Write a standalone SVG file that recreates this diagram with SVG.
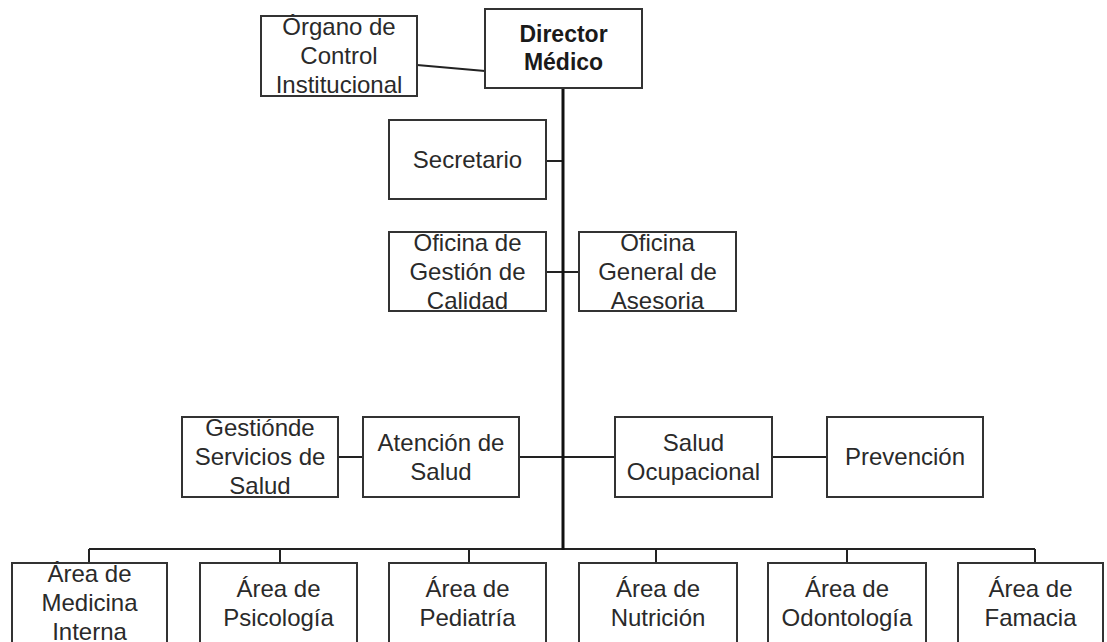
<svg xmlns="http://www.w3.org/2000/svg" width="1107" height="642" viewBox="0 0 1107 642">
<style>
.box{fill:#fff;stroke:#333;stroke-width:2}
.t{font-family:"Liberation Sans",Arial,sans-serif;font-size:24px;fill:#2a2a2a;text-anchor:middle}
.b{font-family:"Liberation Sans",Arial,sans-serif;font-size:23px;font-weight:bold;fill:#1a1a1a;text-anchor:middle}
.c{stroke:#222;stroke-width:2;fill:none}
.m{stroke:#111;stroke-width:3;fill:none}
</style>
<rect width="1107" height="642" fill="#fff"/>
<g id="connectors">
<line class="c" x1="417" y1="65" x2="485" y2="71"/>
<line class="c" x1="546" y1="161" x2="563" y2="161"/>
<line class="c" x1="546" y1="272" x2="579" y2="272"/>
<line class="c" x1="338" y1="457" x2="363" y2="457"/>
<line class="c" x1="519" y1="457" x2="615" y2="457"/>
<line class="c" x1="772" y1="457" x2="827" y2="457"/>
<line class="c" x1="89" y1="549" x2="1035" y2="549"/>
<line class="c" x1="89" y1="549" x2="89" y2="563"/>
<line class="c" x1="280" y1="549" x2="280" y2="563"/>
<line class="c" x1="469" y1="549" x2="469" y2="563"/>
<line class="c" x1="656" y1="549" x2="656" y2="563"/>
<line class="c" x1="847" y1="549" x2="847" y2="563"/>
<line class="c" x1="1035" y1="549" x2="1035" y2="563"/>
<line class="m" x1="563" y1="88" x2="563" y2="550"/>
</g>
<g id="director"><rect class="box" x="485" y="9" width="157" height="79"/><text class="b" x="563.5" y="42">Director</text><text class="b" x="563.5" y="70">Médico</text></g>
<g id="organo"><rect class="box" x="261" y="16" width="156" height="80"/><text class="t" x="339" y="35">Órgano de</text><text class="t" x="339" y="64">Control</text><text class="t" x="339" y="93">Institucional</text></g>
<g id="secretario"><rect class="box" x="389" y="120" width="157" height="79"/><text class="t" x="467.5" y="168">Secretario</text></g>
<g id="gestion-calidad"><rect class="box" x="389" y="232" width="157" height="79"/><text class="t" x="467.5" y="251">Oficina de</text><text class="t" x="467.5" y="280">Gestión de</text><text class="t" x="467.5" y="309">Calidad</text></g>
<g id="asesoria"><rect class="box" x="579" y="232" width="157" height="79"/><text class="t" x="657.5" y="251">Oficina</text><text class="t" x="657.5" y="280">General de</text><text class="t" x="657.5" y="309">Asesoria</text></g>
<g id="gestion-servicios"><rect class="box" x="182" y="417" width="156" height="80"/><text class="t" x="260" y="436">Gestiónde</text><text class="t" x="260" y="465">Servicios de</text><text class="t" x="260" y="494">Salud</text></g>
<g id="atencion"><rect class="box" x="363" y="417" width="156" height="80"/><text class="t" x="441" y="451">Atención de</text><text class="t" x="441" y="480">Salud</text></g>
<g id="salud-ocupacional"><rect class="box" x="615" y="417" width="157" height="80"/><text class="t" x="693.5" y="451">Salud</text><text class="t" x="693.5" y="480">Ocupacional</text></g>
<g id="prevencion"><rect class="box" x="827" y="417" width="156" height="80"/><text class="t" x="905" y="465">Prevención</text></g>
<g id="medicina"><rect class="box" x="12" y="563" width="155" height="80"/><text class="t" x="89.5" y="582">Área de</text><text class="t" x="89.5" y="611">Medicina</text><text class="t" x="89.5" y="640">Interna</text></g>
<g id="psicologia"><rect class="box" x="200" y="563" width="157" height="80"/><text class="t" x="278.5" y="597">Área de</text><text class="t" x="278.5" y="626">Psicología</text></g>
<g id="pediatria"><rect class="box" x="389" y="563" width="157" height="80"/><text class="t" x="467.5" y="597">Área de</text><text class="t" x="467.5" y="626">Pediatría</text></g>
<g id="nutricion"><rect class="box" x="579" y="563" width="158" height="80"/><text class="t" x="658" y="597">Área de</text><text class="t" x="658" y="626">Nutrición</text></g>
<g id="odontologia"><rect class="box" x="768" y="563" width="158" height="80"/><text class="t" x="847" y="597">Área de</text><text class="t" x="847" y="626">Odontología</text></g>
<g id="famacia"><rect class="box" x="958" y="563" width="145" height="80"/><text class="t" x="1030.5" y="597">Área de</text><text class="t" x="1030.5" y="626">Famacia</text></g>
</svg>
